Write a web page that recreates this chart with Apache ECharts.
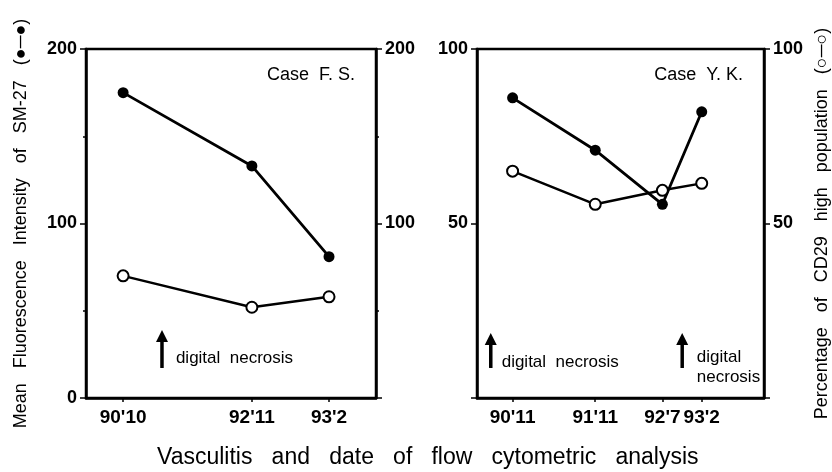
<!DOCTYPE html>
<html><head><meta charset="utf-8">
<script src="https://cdn.jsdelivr.net/npm/echarts@6/dist/echarts.min.js"></script>
<style>html,body{margin:0;padding:0;background:#fff}#c{width:832px;height:472px}</style>
</head><body><div id="c"></div>
<script>
// ---- Case F. S. ----
const fsDates = ["90'10", "92'11", "93'2"];
const fsSlots = [1.28, 5.72, 8.38];          // ordinal slot of each date on the x axis (0-10)
const fsSM27 = [175, 133, 81];               // mean fluorescence intensity of SM-27 (filled)
const fsCD29 = [70, 52, 58];                 // % CD29 high population (open)
const fsLeftTicks = [0, 100, 200];
const fsRightTicks = [100, 200];
// ---- Case Y. K. ----
const ykDates = ["90'11", "91'11", "92'7", "93'2"];
const ykSlots = [1.24, 4.12, 6.46, 7.83];
const ykSM27 = [86, 71, 55.5, 82];
const ykCD29 = [65, 55.5, 59.5, 61.5];
const ykLeftTicks = [50, 100];
const ykRightTicks = [50, 100];
// ---- annotations (data coordinates) ----
const fsArrows = [{x: 2.62, y0: 17.2, y1: 39}];
const fsNotes = [{x: 3.1, y: 22.9, text: 'digital  necrosis'}];
const ykArrows = [{x: 0.48, y0: 8.6, y1: 18.6}, {x: 7.15, y0: 8.6, y1: 18.6}];
const ykNotes = [{x: 0.86, y: 10.3, text: 'digital  necrosis'}, {x: 7.66, y: 8.7, text: 'digital\nnecrosis'}];

const NUM = "'Liberation Sans',Arial,sans-serif";
const TXT = "'Liberation Sans',Arial,sans-serif";

function xAxis(gi, slots, dates) {
  return {
    type: 'value', gridIndex: gi, min: 0, max: 10,
    axisLine: {show: true, lineStyle: {color: '#000', width: 2.5}},
    splitLine: {show: false},
    axisTick: {show: true, customValues: slots, length: 4, lineStyle: {color: '#000', width: 1.5}},
    axisLabel: {
      customValues: slots, margin: 10, color: '#000', fontFamily: NUM, fontWeight: 'bold', fontSize: 19, hideOverlap: false,
      formatter: v => { for (let i = 0; i < slots.length; i++) if (Math.abs(slots[i] - v) < 1e-6) return dates[i]; return ''; }
    }
  };
}
function yAxis(gi, pos, max, interval, ticks, minor, extra) {
  return Object.assign({
    type: 'value', gridIndex: gi, position: pos, min: 0, max: max, interval: interval,
    axisLine: {show: true, lineStyle: {color: '#000', width: 2.5}},
    splitLine: {show: false},
    axisTick: {show: true, length: 6, lineStyle: {color: '#000', width: 1.5}},
    minorTick: {show: minor, splitNumber: 2, length: 3, lineStyle: {color: '#000', width: 1.5}},
    axisLabel: {customValues: ticks, margin: 9, color: '#000', fontFamily: NUM, fontWeight: 'bold', fontSize: 18}
  }, extra || {});
}
function filled(xi, yi, slots, vals) {
  return {type: 'line', xAxisIndex: xi, yAxisIndex: yi, data: slots.map((x, i) => [x, vals[i]]),
    symbol: 'circle', symbolSize: 11, z: 3,
    lineStyle: {color: '#000', width: 2.8}, itemStyle: {color: '#000', borderColor: '#000', borderWidth: 0}};
}
function open(xi, yi, slots, vals) {
  return {type: 'line', xAxisIndex: xi, yAxisIndex: yi, data: slots.map((x, i) => [x, vals[i]]),
    symbol: 'circle', symbolSize: 11, z: 4,
    lineStyle: {color: '#000', width: 2.5}, itemStyle: {color: '#fff', borderColor: '#000', borderWidth: 2}};
}

const chart = echarts.init(document.getElementById('c'));
chart.setOption({
  animation: false,
  backgroundColor: '#fff',
  title: [
    {text: 'Case  F. S.', right: 472, top: 61, textStyle: {fontFamily: TXT, fontSize: 18, fontWeight: 'normal', color: '#000'}},
    {text: 'Case  Y. K.', right: 84, top: 61, textStyle: {fontFamily: TXT, fontSize: 18, fontWeight: 'normal', color: '#000'}},
    {text: 'Vasculitis   and   date   of   flow   cytometric   analysis', left: 152, top: 441,
      textStyle: {fontFamily: TXT, fontSize: 23, fontWeight: 'normal', color: '#000'}}
  ],
  grid: [
    {left: 86, right: 456, top: 49, bottom: 74, show: true, borderColor: '#000', borderWidth: 2.5},
    {left: 477, right: 64, top: 49, bottom: 74, show: true, borderColor: '#000', borderWidth: 2.5}
  ],
  xAxis: [xAxis(0, fsSlots, fsDates), xAxis(1, ykSlots, ykDates)],
  yAxis: [
    yAxis(0, 'left', 200, 100, fsLeftTicks, true, {name: 'Mean   Fluorescence   Intensity   of   SM-27   (●─●)', nameLocation: 'middle', nameRotate: 90, nameGap: 56,
      nameTextStyle: {fontFamily: TXT, fontSize: 18, color: '#000'}}),
    yAxis(0, 'right', 200, 100, fsRightTicks, true),
    yAxis(1, 'left', 100, 50, ykLeftTicks, false),
    yAxis(1, 'right', 100, 50, ykRightTicks, false, {name: 'Percentage   of   CD29   high   population   (○─○)', nameLocation: 'middle', nameRotate: 90, nameGap: 49,
      nameTextStyle: {fontFamily: TXT, fontSize: 18, color: '#000'}})
  ],
  series: [
    open(0, 1, fsSlots, fsCD29),
    filled(0, 0, fsSlots, fsSM27),
    open(1, 3, ykSlots, ykCD29),
    filled(1, 2, ykSlots, ykSM27)
  ]
});

function annot(gi, arrows, notes) {
  const g = [];
  arrows.forEach(a => {
    const b = chart.convertToPixel({gridIndex: gi}, [a.x, a.y0]);
    const t = chart.convertToPixel({gridIndex: gi}, [a.x, a.y1]);
    g.push({type: 'line', shape: {x1: b[0], y1: b[1], x2: t[0], y2: t[1] + 10}, style: {stroke: '#000', lineWidth: 3.5}, z: 10});
    g.push({type: 'polygon', shape: {points: [[t[0] - 6, t[1] + 12], [t[0] + 6, t[1] + 12], [t[0], t[1]]]}, style: {fill: '#000'}, z: 10});
  });
  notes.forEach(n => {
    const p = chart.convertToPixel({gridIndex: gi}, [n.x, n.y]);
    g.push({type: 'text', x: p[0], y: p[1], style: {text: n.text, fill: '#000', font: '17px ' + TXT, verticalAlign: 'middle', align: 'left', lineHeight: 20}, z: 10});
  });
  return g;
}
chart.setOption({graphic: annot(0, fsArrows, fsNotes).concat(annot(1, ykArrows, ykNotes))});
</script></body></html>
